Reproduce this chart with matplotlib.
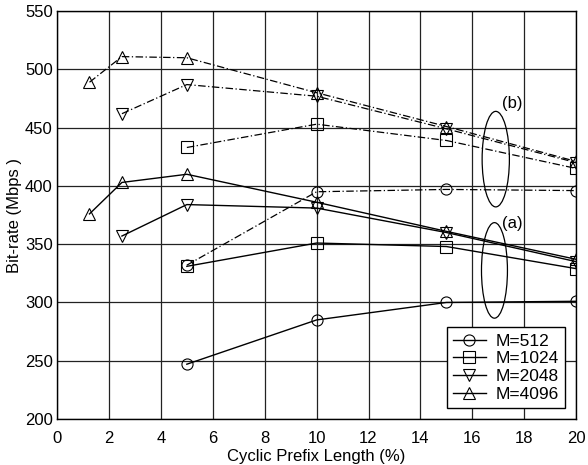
import matplotlib
matplotlib.use("Agg")
import matplotlib.pyplot as plt
from matplotlib.patches import Ellipse

plt.rcParams["font.family"] = ["Liberation Sans", "DejaVu Sans"]

# cyclic prefix length (%) per curve
cp_512 = [5, 10, 15, 20]
cp_1024 = [5, 10, 15, 20]
cp_2048 = [2.5, 5, 10, 15, 20]
cp_4096 = [1.25, 2.5, 5, 10, 15, 20]

# (a) curves - solid
rate_512_a = [247, 285, 300, 301]
rate_1024_a = [331, 351, 348, 329]
rate_2048_a = [357, 384, 381, 360, 335]
rate_4096_a = [376, 403, 410, 386, 361, 337]

# (b) curves - dash-dot
rate_512_b = [332, 395, 397, 396]
rate_1024_b = [433, 453, 439, 415]
rate_2048_b = [462, 487, 477, 449, 420]
rate_4096_b = [489, 511, 510, 480, 451, 421]

labels = ["M=512", "M=1024", "M=2048", "M=4096"]
markers = ["o", "s", "v", "^"]

fig = plt.figure(figsize=(5.88, 4.65), dpi=100)
ax = fig.add_axes([0.097, 0.099, 0.883, 0.877])

series_a = [(cp_512, rate_512_a), (cp_1024, rate_1024_a),
            (cp_2048, rate_2048_a), (cp_4096, rate_4096_a)]
series_b = [(cp_512, rate_512_b), (cp_1024, rate_1024_b),
            (cp_2048, rate_2048_b), (cp_4096, rate_4096_b)]

handles = []
for (x, y), m, lab in zip(series_a, markers, labels):
    h, = ax.plot(x, y, color="black", lw=1, marker=m, ms=8,
                 mfc="none", mec="black", mew=0.8, label=lab, zorder=3)
    handles.append(h)
for (x, y), m in zip(series_b, markers):
    ax.plot(x, y, color="black", lw=0.9, ls=(0, (6, 2, 1, 2)), marker=m, ms=8,
            mfc="none", mec="black", mew=0.8, zorder=3)

ax.add_patch(Ellipse((16.9, 423), 1.05, 82, fill=False, ec="black", lw=0.9, zorder=4))
ax.add_patch(Ellipse((16.85, 327.5), 1.0, 82, fill=False, ec="black", lw=0.9, zorder=4))
ax.text(17.55, 471, "(b)", fontsize=12, va="center", ha="center")
ax.text(17.55, 368, "(a)", fontsize=12, va="center", ha="center")

ax.set_xlim(0, 20)
ax.set_ylim(200, 550)
ax.set_xticks(range(0, 21, 2))
ax.set_yticks(range(200, 551, 50))
ax.grid(True, color="#222222", lw=0.9)
ax.set_axisbelow(True)
ax.tick_params(direction="in", labelsize=12, length=0)
ax.tick_params(axis="x", pad=9)
ax.tick_params(axis="y", pad=3)
for s in ax.spines.values():
    s.set_linewidth(1)

ax.set_xlabel("Cyclic Prefix Length (%)", fontsize=12, labelpad=2)
ax.set_ylabel("Bit-rate (Mbps )", fontsize=12, labelpad=2)

leg = ax.legend(handles=handles, loc="lower right", fontsize=12.5,
                fancybox=False, framealpha=1, edgecolor="black",
                handlelength=1.9, labelspacing=0.15, borderpad=0.35,
                handletextpad=0.6, borderaxespad=0,
                bbox_to_anchor=(0.979, 0.027))
leg.get_frame().set_linewidth(1)

fig.savefig("out.png", dpi=100)
